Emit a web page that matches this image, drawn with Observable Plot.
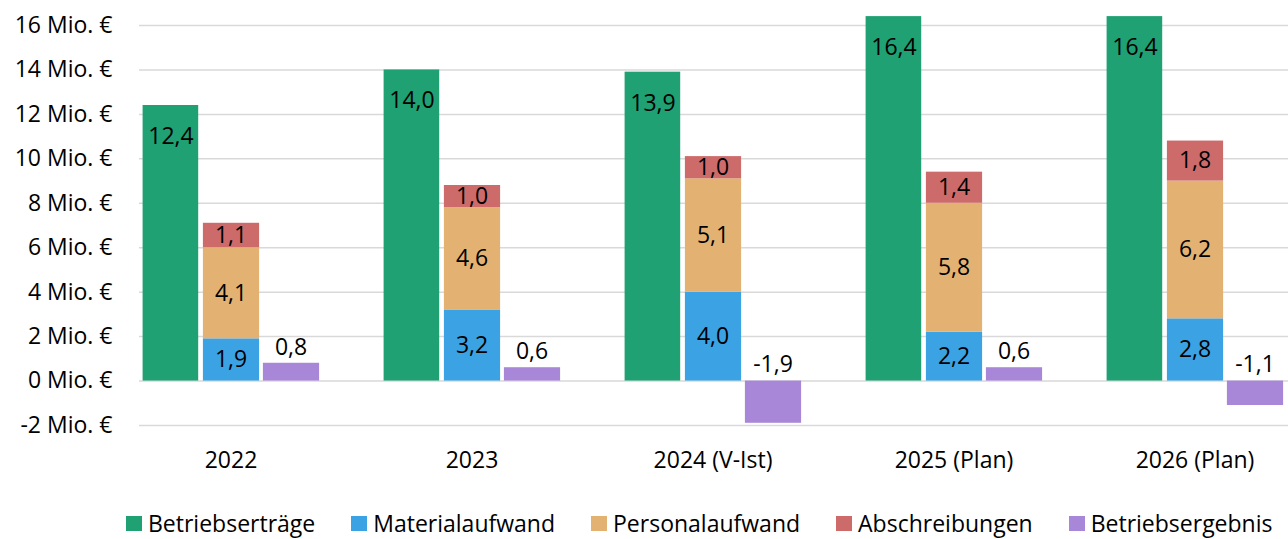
<!DOCTYPE html>
<html><head><meta charset="utf-8">
<script src="https://cdn.jsdelivr.net/npm/d3@7"></script>
<script src="https://cdn.jsdelivr.net/npm/@observablehq/plot@0.6"></script>
<style>
body{margin:0;background:#fff;overflow:hidden;font-family:"Open Sans",sans-serif;}
#chart svg{display:block}
.legend{display:flex;align-items:center;margin-top:28px;padding-left:126px;font-size:23px;line-height:30px;color:#000;white-space:nowrap}
.item{display:flex;align-items:center;margin-right:36px}
.sw{width:16px;height:15px;margin-right:6px;flex:none}
</style></head><body>
<div id="chart"></div>
<div class="legend" id="legend"></div>
<script>
const years = ["2022","2023","2024 (V-Ist)","2025 (Plan)","2026 (Plan)"];
const seriesNames = ["Betriebserträge","Materialaufwand","Personalaufwand","Abschreibungen","Betriebsergebnis"];
const colors = ["#1fa173","#3ba3e4","#e3b273","#cd6b6b","#a886d8"];
const betriebsertraege = [12.4,14.0,13.9,16.4,16.4];
const materialaufwand = [1.9,3.2,4.0,2.2,2.8];
const personalaufwand = [4.1,4.6,5.1,5.8,6.2];
const abschreibungen = [1.1,1.0,1.0,1.4,1.8];
const betriebsergebnis = [0.8,0.6,-1.9,0.6,-1.1];
const yTicks = [-2,0,2,4,6,8,10,12,14,16];

const fmt = v => v.toFixed(1).replace(".", ",");
const ertragRows = years.map((year,i) => ({year, series: seriesNames[0], value: betriebsertraege[i]}));
const costRows = years.flatMap((year,i) => [
  {year, series: seriesNames[1], value: materialaufwand[i]},
  {year, series: seriesNames[2], value: personalaufwand[i]},
  {year, series: seriesNames[3], value: abschreibungen[i]}
]);
const ergebnisRows = years.map((year,i) => ({year, series: seriesNames[4], value: betriebsergebnis[i]}));

const chart = Plot.plot({
  width: 1288,
  height: 480,
  marginTop: 25,
  marginBottom: 55,
  marginLeft: 139,
  marginRight: 0,
  style: {fontFamily: "Open Sans", fontSize: "23px", color: "#000", background: "#fff"},
  x: {domain: years, range: [108.1, 1316.9], padding: 0, tickSize: 0, tickPadding: 26, label: null},
  y: {domain: [-2, 16], ticks: yTicks, tickFormat: d => `${d} Mio. €`, tickSize: 0, tickPadding: 27, label: null},
  color: {domain: seriesNames, range: colors},
  marks: [
    Plot.ruleY(yTicks, {stroke: "#d9d9d9", strokeWidth: 1.5}),
    Plot.barY(ertragRows, {x: "year", y: "value", fill: "series", insetLeft: 32.6, insetRight: 152.8}),
    Plot.barY(costRows, {x: "year", y: "value", fill: "series", insetLeft: 92.9, insetRight: 91.9}),
    Plot.barY(ergebnisRows, {x: "year", y: "value", fill: "series", insetLeft: 152.9, insetRight: 31.9}),
    Plot.text(ertragRows, {x: "year", y: "value", text: d => fmt(d.value), dx: -60, dy: 31, fill: "#000"}),
    Plot.text(costRows, Plot.stackY({x: "year", y: "value", z: "series", text: d => fmt(d.value), fill: "#000"})),
    Plot.text(ergebnisRows, {x: "year", y: d => Math.max(d.value, 0), text: d => fmt(d.value), dx: 60, dy: -16, fill: "#000"})
  ]
});
document.getElementById("chart").appendChild(chart);

const legend = document.getElementById("legend");
seriesNames.forEach((name, i) => {
  const item = document.createElement("div");
  item.className = "item";
  const sw = document.createElement("span");
  sw.className = "sw";
  sw.style.background = colors[i];
  const label = document.createElement("span");
  label.textContent = name;
  item.appendChild(sw);
  item.appendChild(label);
  legend.appendChild(item);
});
</script>
</body></html>
